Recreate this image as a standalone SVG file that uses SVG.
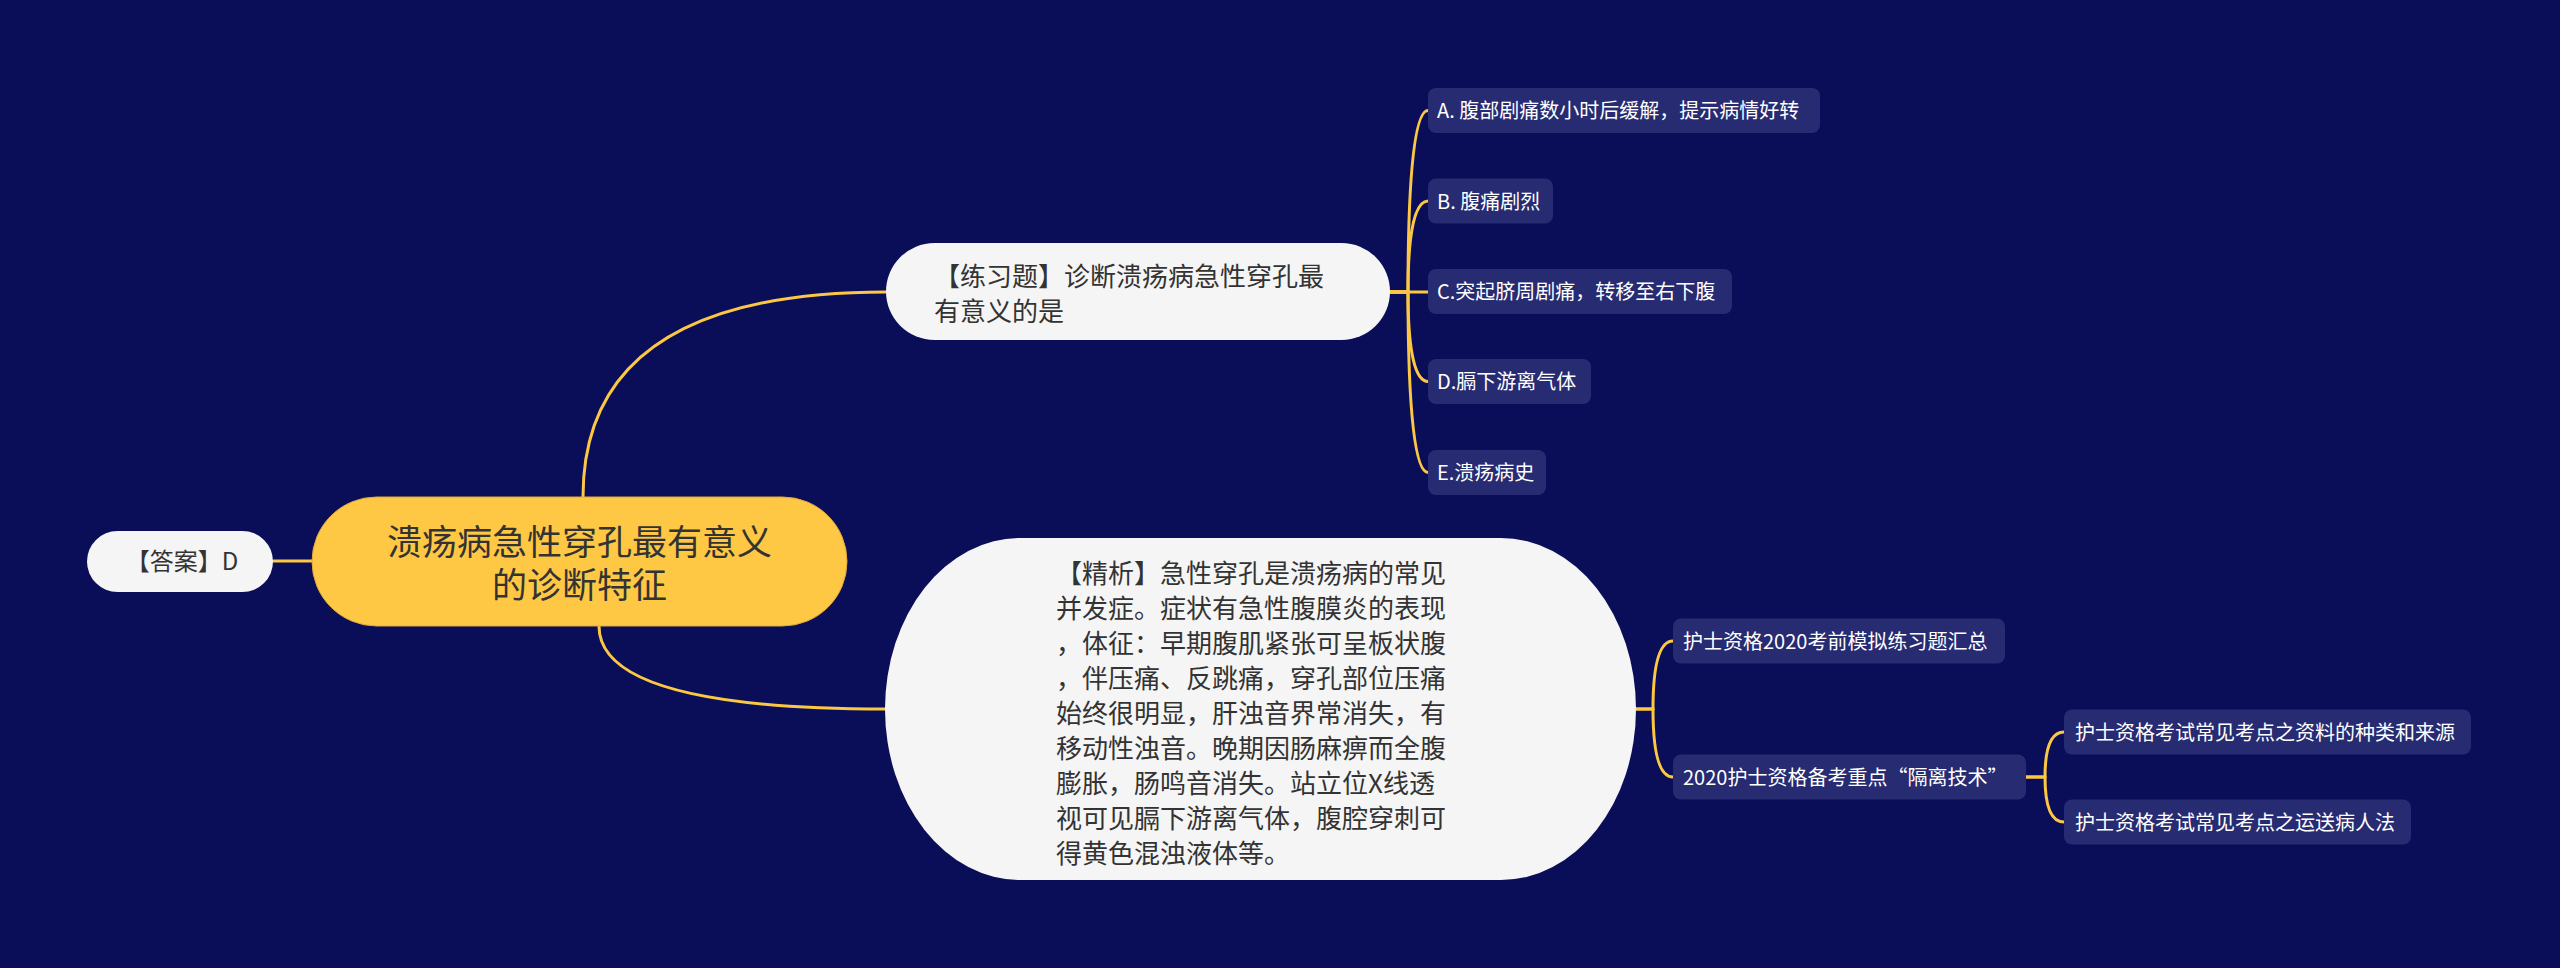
<svg xmlns="http://www.w3.org/2000/svg" width="2560" height="968" viewBox="0 0 2560 968">
<style>
text{font-family:"Noto Sans CJK SC","Noto Sans",sans-serif;}
.bg{fill:#0a0e59;}
.root{fill:#fec844;stroke:#e0a93a;stroke-width:1;}
.rootT{font-family:"Liberation Sans","Noto Sans CJK SC",sans-serif;font-size:35px;fill:#333333;text-anchor:middle;}
.white{fill:#f5f5f5;}
.wT{font-size:26px;fill:#333333;}
.aT{font-size:24px;fill:#333333;text-anchor:middle;}
.leaf{fill:#272b72;}
.lT{font-size:20px;fill:#ffffff;}
.conn path{fill:none;stroke:#fcc844;stroke-width:3;stroke-linecap:round;}
</style>
<rect class="bg" x="0" y="0" width="2560" height="968"/>
<g class="conn" id="connectors">
<path d="M273,561 H312"/>
<path d="M583,497 Q583,292 886,292"/>
<path d="M599,626 Q599,709 885,709"/>
<path d="M1390,292 L1408,292 C1408,201 1412,110.5 1428,110.5"/>
<path d="M1390,292 L1408,292 C1408,246.5 1412,201 1428,201"/>
<path d="M1390,292 L1428,292"/>
<path d="M1390,292 L1408,292 C1408,337 1412,381.5 1428,381.5"/>
<path d="M1390,292 L1408,292 C1408,382 1412,472.5 1428,472.5"/>
<path d="M1636,709 L1653,709 C1653,675 1657,641 1673,641"/>
<path d="M1636,709 L1653,709 C1653,743 1657,777 1673,777"/>
<path d="M2026,777 L2045,777 C2045,754.5 2048,732 2064,732"/>
<path d="M2026,777 L2045,777 C2045,799.5 2048,822 2064,822"/>
</g>
<g id="root">
<rect class="root" x="312" y="497" width="535" height="129" rx="64.5"/>
<text class="rootT" x="579.5" y="555">溃疡病急性穿孔最有意义</text>
<text class="rootT" x="579.5" y="598">的诊断特征</text>
</g>
<g id="answer">
<rect class="white" x="87" y="531" width="186" height="61" rx="30.5"/>
<text class="aT" x="182" y="570">【答案】D</text>
</g>
<g id="question">
<rect class="white" x="886" y="243" width="504" height="97" rx="48.5"/>
<text class="wT" x="934" y="286">【练习题】诊断溃疡病急性穿孔最</text>
<text class="wT" x="934" y="321">有意义的是</text>
</g>
<g id="optA">
<rect class="leaf" x="1428" y="88" width="392" height="45" rx="8"/>
<text class="lT" x="1437" y="118">A. 腹部剧痛数小时后缓解，提示病情好转</text>
</g>
<g id="optB">
<rect class="leaf" x="1428" y="178.5" width="125" height="45" rx="8"/>
<text class="lT" x="1437" y="209">B. 腹痛剧烈</text>
</g>
<g id="optC">
<rect class="leaf" x="1428" y="269" width="304" height="45" rx="8"/>
<text class="lT" x="1437" y="299">C.突起脐周剧痛，转移至右下腹</text>
</g>
<g id="optD">
<rect class="leaf" x="1428" y="359" width="163" height="45" rx="8"/>
<text class="lT" x="1437" y="389">D.膈下游离气体</text>
</g>
<g id="optE">
<rect class="leaf" x="1428" y="450" width="118" height="45" rx="8"/>
<text class="lT" x="1437" y="480">E.溃疡病史</text>
</g>
<g id="analysis">
<rect class="white" x="885" y="538" width="751" height="342" rx="135" ry="171"/>
<text class="wT" x="1056" y="583">【精析】急性穿孔是溃疡病的常见</text>
<text class="wT" x="1056" y="618">并发症。症状有急性腹膜炎的表现</text>
<text class="wT" x="1056" y="653">，体征：早期腹肌紧张可呈板状腹</text>
<text class="wT" x="1056" y="688">，伴压痛、反跳痛，穿孔部位压痛</text>
<text class="wT" x="1056" y="723">始终很明显，肝浊音界常消失，有</text>
<text class="wT" x="1056" y="758">移动性浊音。晚期因肠麻痹而全腹</text>
<text class="wT" x="1056" y="793">膨胀，肠鸣音消失。站立位X线透</text>
<text class="wT" x="1056" y="828">视可见膈下游离气体，腹腔穿刺可</text>
<text class="wT" x="1056" y="863">得黄色混浊液体等。</text>
</g>
<g id="rel1">
<rect class="leaf" x="1673" y="618.5" width="332" height="45" rx="8"/>
<text class="lT" x="1683" y="649">护士资格2020考前模拟练习题汇总</text>
</g>
<g id="rel2">
<rect class="leaf" x="1673" y="754.5" width="353" height="45" rx="8"/>
<text class="lT" x="1683" y="785">2020护士资格备考重点“隔离技术”</text>
</g>
<g id="rel2a">
<rect class="leaf" x="2064" y="709.5" width="407" height="45" rx="8"/>
<text class="lT" x="2075" y="740">护士资格考试常见考点之资料的种类和来源</text>
</g>
<g id="rel2b">
<rect class="leaf" x="2064" y="799.5" width="347" height="45" rx="8"/>
<text class="lT" x="2075" y="830">护士资格考试常见考点之运送病人法</text>
</g>
</svg>
